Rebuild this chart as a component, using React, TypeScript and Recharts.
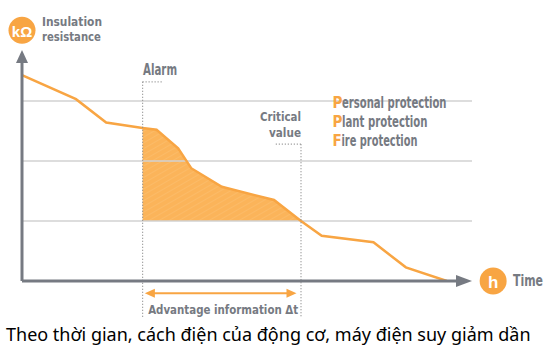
import { Area, ComposedChart, Line, ReferenceDot, ReferenceLine, XAxis, YAxis } from "recharts";

// time (arbitrary units) and insulation resistance (grid steps)
const times = [0, 12, 18.7, 26.8, 29.9, 34.7, 37.6, 44.4, 56, 62, 66.6, 78.1, 85.3, 94.4];
const resistance = [3.43, 3.03, 2.64, 2.55, 2.52, 2.21, 1.88, 1.57, 1.35, 1.0, 0.755, 0.645, 0.228, 0];

const alarmTime = 26.8;
const criticalTime = 62;
const criticalLevel = 1;
const gridLevels = [1, 2, 3];
const yTop = 3.85;
const xEnd = 100;

const yTitle = ["Insulation", "resistance"];
const xTitle = "Time";
const legendItems = ["Personal protection", "Plant protection", "Fire protection"];
const criticalLabel = ["Critical", "value"];
const advantageLabel = "Advantage information Δt";
const caption = "Theo thời gian, cách điện của động cơ, máy điện suy giảm dần";

const data = times.map((t, i) => ({
  t,
  r: resistance[i],
  band: t >= alarmTime && t <= criticalTime ? [criticalLevel, resistance[i]] : null,
}));

const orange = "#f8a543";
const fillOrange = "#fbb45a";
const gray = "#767a82";
const font = "'DejaVu Sans Condensed', 'Liberation Sans', sans-serif";

function arrowShape(color: string, width: number, head: number, half: number, both = false) {
  return (p: any) => {
    const { x1, y1, x2, y2 } = p;
    const a = Math.atan2(y2 - y1, x2 - x1);
    const tip = (x: number, y: number, ang: number) => {
      const bx = x - head * Math.cos(ang);
      const by = y - head * Math.sin(ang);
      const nx = -Math.sin(ang) * half;
      const ny = Math.cos(ang) * half;
      return `${x},${y} ${bx + nx},${by + ny} ${bx - nx},${by - ny}`;
    };
    const sx = both ? x1 + head * 0.6 * Math.cos(a) : x1;
    const sy = both ? y1 + head * 0.6 * Math.sin(a) : y1;
    const ex = x2 - head * 0.6 * Math.cos(a);
    const ey = y2 - head * 0.6 * Math.sin(a);
    return (
      <g>
        <line x1={sx} y1={sy} x2={ex} y2={ey} stroke={color} strokeWidth={width} />
        <polygon points={tip(x2, y2, a)} fill={color} />
        {both && <polygon points={tip(x1, y1, a + Math.PI)} fill={color} />}
      </g>
    );
  };
}

const dotted = { stroke: "#8a8a8a", strokeWidth: 1.2, strokeDasharray: "1 2" };

// condensed bold labels, squeezed to the widths seen in the original artwork
function textShape(lines: string[], widths: number[], size: number, anchor: "start" | "end" | "middle", lh = size * 1.15) {
  return (p: any) => (
    <g>
      {lines.map((s, i) => (
        <text
          key={i}
          x={p.cx}
          y={p.cy + i * lh}
          textAnchor={anchor}
          dominantBaseline="central"
          fontFamily={font}
          fontWeight="bold"
          fontSize={size}
          fill={gray}
          textLength={widths[i]}
          lengthAdjust="spacingAndGlyphs"
        >
          {s}
        </text>
      ))}
    </g>
  );
}

function badge(label: string, size: number) {
  return (p: any) => (
    <g>
      <circle cx={p.cx} cy={p.cy} r={13.5} fill={orange} />
      <text
        x={p.cx}
        y={p.cy + 1}
        textAnchor="middle"
        dominantBaseline="central"
        fontFamily="'Liberation Sans', Arial, sans-serif"
        fontWeight="bold"
        fontSize={size}
        fill="#fff"
      >
        {label}
      </text>
    </g>
  );
}

const legendWidths = [114, 95, 85];
const initialWidths = [9.5, 9.5, 9];

const legendShape = (p: any) => (
  <g>
    {legendItems.map((s, i) => (
      <g key={s}>
        <text
          x={p.cx}
          y={p.cy + i * 19}
          dominantBaseline="central"
          fontFamily={font}
          fontWeight="bold"
          fontSize={15}
          fill={orange}
        >
          {s[0]}
        </text>
        <text
          x={p.cx + initialWidths[i]}
          y={p.cy + i * 19}
          dominantBaseline="central"
          fontFamily={font}
          fontWeight="bold"
          fontSize={15}
          fill={gray}
          textLength={legendWidths[i] - initialWidths[i]}
          lengthAdjust="spacingAndGlyphs"
        >
          {s.slice(1)}
        </text>
      </g>
    ))}
  </g>
);

export default function App() {
  return (
    <div style={{ position: "relative", width: 557, height: 351, background: "#fff" }}>
      <style>{"body{margin:0}"}</style>
      <ComposedChart width={557} height={351} data={data} margin={{ top: 50, right: 85, bottom: 70, left: 22 }}>
        <defs>
          <pattern id="hatch" width="5" height="5" patternUnits="userSpaceOnUse" patternTransform="rotate(60)">
            <rect width="5" height="5" fill={fillOrange} />
            <line x1="0" y1="0" x2="0" y2="5" stroke="#fcbd6c" strokeWidth="1.5" />
          </pattern>
        </defs>
        <XAxis type="number" dataKey="t" domain={[0, xEnd]} hide allowDataOverflow />
        <YAxis type="number" domain={[0, yTop]} hide allowDataOverflow />

        {gridLevels.map((g) => (
          <ReferenceLine key={g} y={g} stroke="#d2d2d2" strokeWidth={1.5} />
        ))}

        <Area
          type="linear"
          dataKey="band"
          stroke="none"
          fill="url(#hatch)"
          fillOpacity={1}
          isAnimationActive={false}
          connectNulls={false}
          activeDot={false}
        />
        <Line
          type="linear"
          dataKey="r"
          stroke={orange}
          strokeWidth={2.5}
          dot={false}
          activeDot={false}
          isAnimationActive={false}
        />

        {/* alarm & critical markers */}
        <ReferenceLine
          ifOverflow="visible"
          segment={[{ x: alarmTime, y: 3.32 }, { x: alarmTime, y: -0.62 }]}
          {...dotted}
        />
        <ReferenceLine
          ifOverflow="visible"
          segment={[{ x: alarmTime, y: 3.32 }, { x: 31.3, y: 3.32 }]}
          {...dotted}
        />
        <ReferenceLine
          ifOverflow="visible"
          segment={[{ x: criticalTime, y: 2.28 }, { x: criticalTime, y: -0.62 }]}
          {...dotted}
        />
        <ReferenceLine
          ifOverflow="visible"
          segment={[{ x: 56.4, y: 2.28 }, { x: criticalTime, y: 2.28 }]}
          {...dotted}
        />

        {/* axes with arrow heads */}
        <ReferenceLine
          ifOverflow="visible"
          segment={[{ x: 0, y: 0 }, { x: 0, y: yTop }]}
          shape={arrowShape(gray, 3, 13, 6)}
        />
        <ReferenceLine
          ifOverflow="visible"
          segment={[{ x: 0, y: 0 }, { x: xEnd, y: 0 }]}
          shape={arrowShape(gray, 3, 16, 6)}
        />

        {/* advantage interval */}
        <ReferenceLine
          ifOverflow="visible"
          segment={[{ x: alarmTime + 0.5, y: -0.205 }, { x: criticalTime - 1, y: -0.205 }]}
          shape={arrowShape(orange, 2, 10, 4.5, true)}
        />
        <ReferenceDot
          ifOverflow="visible"
          x={(alarmTime + criticalTime) / 2 + 0.3}
          y={-0.48}
          shape={textShape([advantageLabel], [150], 13, "middle")}
        />

        <ReferenceDot ifOverflow="visible" x={alarmTime + 0.1} y={3.52} shape={textShape(["Alarm"], [34], 15, "start")} />
        <ReferenceDot
          ifOverflow="visible"
          x={criticalTime}
          y={2.74}
          shape={textShape(criticalLabel, [41, 32], 13, "end", 16)}
        />
        <ReferenceDot ifOverflow="visible" x={69} y={2.97} shape={legendShape} />

        <ReferenceDot ifOverflow="visible" x={0} y={4.18} shape={badge("kΩ", 15)} />
        <ReferenceDot ifOverflow="visible" x={4.44} y={4.33} shape={textShape(yTitle, [60, 59], 13, "start", 15.7)} />
        <ReferenceDot ifOverflow="visible" x={104.7} y={0} shape={badge("h", 17)} />
        <ReferenceDot ifOverflow="visible" x={109.1} y={0} shape={textShape([xTitle], [30], 15, "start")} />
      </ComposedChart>
      <div
        style={{
          position: "absolute",
          left: 6,
          top: 322,
          fontFamily: "'Noto Sans', sans-serif",
          fontSize: 18,
          color: "#000",
          whiteSpace: "nowrap",
        }}
      >
        {caption}
      </div>
    </div>
  );
}
